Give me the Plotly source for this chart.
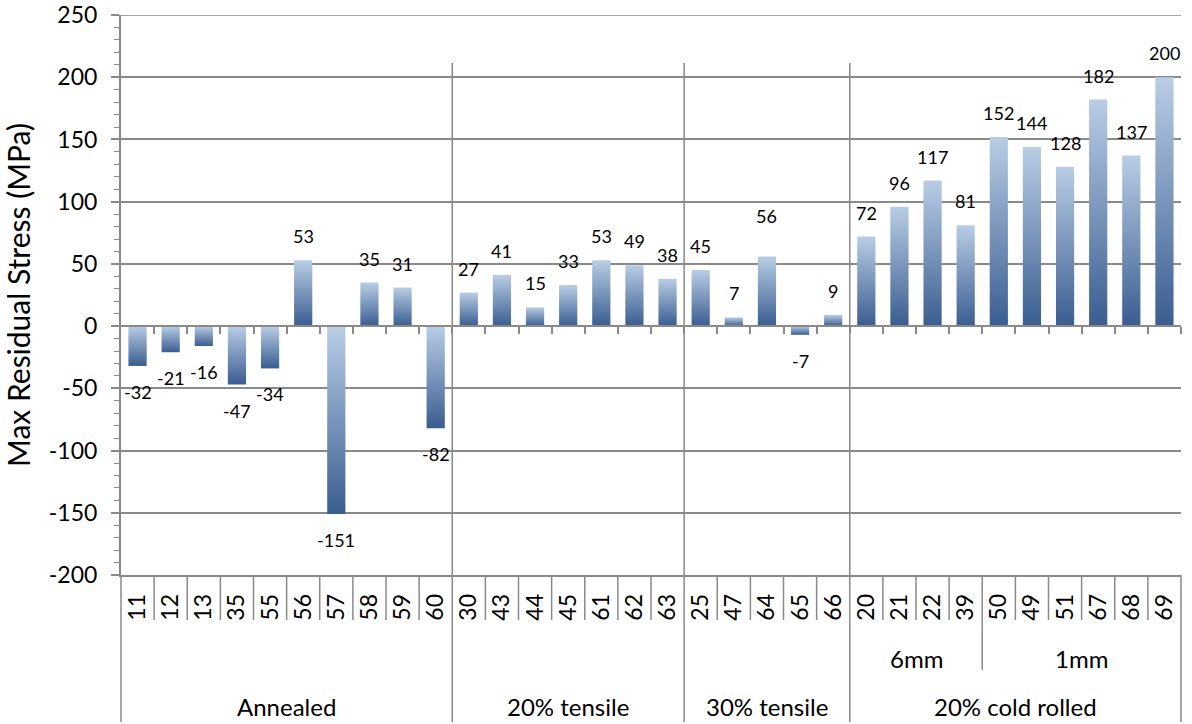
import plotly.graph_objects as go

# --- data -----------------------------------------------------------------
sample_ids = ["11", "12", "13", "35", "55", "56", "57", "58", "59", "60",
              "30", "43", "44", "45", "61", "62", "63",
              "25", "47", "64", "65", "66",
              "20", "21", "22", "39", "50", "49", "51", "67", "68", "69"]
stress_mpa = [-32, -21, -16, -47, -34, 53, -151, 35, 31, -82,
              27, 41, 15, 33, 53, 49, 38,
              45, 7, 56, -7, 9,
              72, 96, 117, 81, 152, 144, 128, 182, 137, 200]
treatments = ["Annealed", "20% tensile", "30% tensile", "20% cold rolled"]
treatment_sizes = [10, 7, 5, 10]
thicknesses = ["6mm", "1mm"]          # sub-groups of the cold rolled set
thickness_sizes = [4, 6]
y_ticks = [-200, -150, -100, -50, 0, 50, 100, 150, 200, 250]

# --- styling ----------------------------------------------------------------
FONT = "Lato"
GRID = "#8A8A8A"
DARK = "#3A5D90"
LIGHT = "#B9CDE5"
BAR_W = 0.55
W, H = 1192, 724
ML, MR, MT, MB = 121, 11, 15, 149
PLOT_H = H - MT - MB

def py(px_below_axis):
    """paper y for a distance (px) below the bottom of the plot area"""
    return -px_below_axis / PLOT_H

n = len(sample_ids)
fig = go.Figure()

# bars as filled polygons so each one can carry its own vertical gradient
for i, v in enumerate(stress_mpa):
    x0, x1 = i - BAR_W / 2, i + BAR_W / 2
    lo, hi = min(0, v), max(0, v)
    fig.add_trace(go.Scatter(
        x=[x0, x1, x1, x0, x0], y=[0, 0, v, v, 0],
        mode="lines", line=dict(width=0), fill="toself",
        fillgradient=dict(type="vertical", start=lo, stop=hi,
                          colorscale=[[0, DARK], [1, LIGHT]]),
        hoverinfo="skip", showlegend=False))

# empty trace that carries the zero-line axis with its category ticks
fig.add_trace(go.Scatter(x=[0], y=[0], xaxis="x2", mode="none",
                         hoverinfo="skip", showlegend=False))

# value labels
annotations = []
extra_lift = {"64": 16}
for i, (sid, v) in enumerate(zip(sample_ids, stress_mpa)):
    shift = 24 + extra_lift.get(sid, 0) if v >= 0 else -26
    annotations.append(dict(x=i, y=v, yshift=shift, text=str(v), showarrow=False,
                            font=dict(family=FONT, size=18, color="black"),
                            xanchor="center", yanchor="middle"))

# category separators and group labels below the axis
shapes = []
line = dict(color=GRID, width=1.5)
edges = []
start = 0
for name, size in zip(treatments, treatment_sizes):
    annotations.append(dict(x=start + (size - 1) / 2, y=py(131), yref="paper",
                            text=name, showarrow=False,
                            font=dict(family=FONT, size=24, color="black"),
                            xanchor="center", yanchor="middle"))
    start += size
    edges.append(start - 0.5)

for b in range(n - 1):
    xb = b + 0.5
    if xb in edges:
        shapes.append(dict(type="line", xref="x", yref="paper", x0=xb, x1=xb,
                           y0=(MT + PLOT_H - 63) / PLOT_H, y1=py(147), line=line))
    else:
        shapes.append(dict(type="line", xref="x", yref="paper", x0=xb, x1=xb,
                           y0=0, y1=py(45), line=line))
for xp in (0, 1):
    shapes.append(dict(type="line", xref="paper", yref="paper", x0=xp, x1=xp,
                       y0=0, y1=py(147), line=line))
# top gridline at the end of the value range
shapes.append(dict(type="line", xref="paper", yref="y", x0=-8 / (W - ML - MR), x1=1,
                   y0=y_ticks[-1], y1=y_ticks[-1], line=line))

sub_start = n - sum(thickness_sizes)
for k, (name, size) in enumerate(zip(thicknesses, thickness_sizes)):
    annotations.append(dict(x=sub_start + (size - 1) / 2, y=py(83), yref="paper",
                            text=name, showarrow=False,
                            font=dict(family=FONT, size=24, color="black"),
                            xanchor="center", yanchor="middle"))
    sub_start += size
    if k < len(thicknesses) - 1:
        xb = sub_start - 0.5
        shapes.append(dict(type="line", xref="x", yref="paper", x0=xb, x1=xb,
                           y0=py(45), y1=py(95), line=line))

fig.update_layout(
    width=W, height=H,
    margin=dict(l=ML, r=MR, t=MT, b=MB, autoexpand=False),
    plot_bgcolor="white", paper_bgcolor="white",
    font=dict(family=FONT, color="black"),
    xaxis=dict(range=[-0.5, n - 0.5], tickmode="array",
               tickvals=list(range(n)), ticktext=sample_ids, tickangle=-90,
               tickfont=dict(family=FONT, size=23), ticks="", showgrid=False,
               zeroline=False, showline=True, linecolor=GRID, linewidth=1.5,
               ticklabelstandoff=8, automargin=False),
    xaxis2=dict(range=[-0.5, n - 0.5], overlaying="x", anchor="free",
                position=(0 - y_ticks[0]) / (y_ticks[-1] - y_ticks[0]),
                tickmode="array", tickvals=[b + 0.5 for b in range(n)],
                ticks="outside", ticklen=7, tickwidth=1.5, tickcolor=GRID,
                showticklabels=False, showgrid=False, zeroline=False,
                showline=True, linecolor=GRID, linewidth=1.5, automargin=False),
    yaxis=dict(range=[y_ticks[0], y_ticks[-1]], tickmode="array", tickvals=y_ticks,
               ticktext=[str(t) for t in y_ticks],
               tickfont=dict(family=FONT, size=23), showgrid=True,
               gridcolor=GRID, gridwidth=1.5, zeroline=False, showline=True,
               linecolor=GRID, linewidth=2, ticks="outside", ticklen=8,
               tickwidth=1.5, tickcolor=GRID, ticklabelstandoff=9,
               automargin=False,
               minor=dict(dtick=10, ticks="outside", ticklen=5, tickwidth=1.2,
                          tickcolor=GRID, showgrid=False),
               title=dict(text="Max Residual Stress (MPa)", standoff=10,
                          font=dict(family=FONT, size=30))),
    shapes=shapes,
    annotations=annotations,
)

fig.write_html("out.html")
